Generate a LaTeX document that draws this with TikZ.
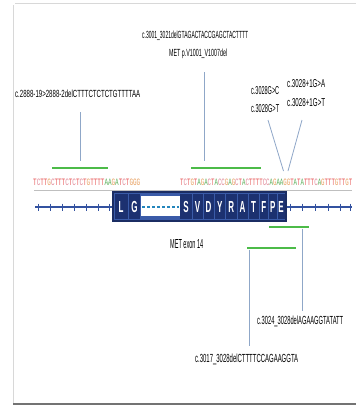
\documentclass[tikz,border=0pt]{standalone}
\usepackage{fontspec}
\setmainfont{Liberation Sans}
\setmonofont{Liberation Mono}
\usepackage{graphicx}
\definecolor{navy}{HTML}{1B2D63}
\definecolor{cellblue}{HTML}{1C3170}
\definecolor{boxblue}{HTML}{3A5BA8}
\definecolor{axisblue}{HTML}{3352A0}
\definecolor{conn}{HTML}{8FA7C8}
\definecolor{bargreen}{HTML}{4CBB48}
\definecolor{framegray}{HTML}{D8D8D8}
\definecolor{seqA}{HTML}{5CB05C}
\definecolor{seqC}{HTML}{E08898}
\definecolor{seqG}{HTML}{E8A060}
\definecolor{seqT}{HTML}{E85A5A}
\newcommand\fitbox[3]{\resizebox{#1pt}{#2pt}{#3}}
\newcommand\colseq[1]{\colseqaux#1\relax}
\def\colseqaux#1{\ifx#1\relax\else\colseqchar{#1}\expandafter\colseqaux\fi}
\def\colseqchar#1{\if#1A\textcolor{seqA}{A}\else\if#1C\textcolor{seqC}{C}\else\if#1G\textcolor{seqG}{G}\else\textcolor{seqT}{T}\fi\fi\fi}
\newcommand\aminoletter[1]{\scalebox{0.5}[1]{\fontsize{16}{16}\selectfont\bfseries #1}}
\begin{document}
\begin{tikzpicture}[x=1pt,y=-1pt,
  txt/.style={inner sep=0pt, anchor=base west, text=black},
  connector/.style={draw=conn, line width=0.8pt},
  greenbar/.style={draw=bargreen, line width=2.4pt},
  aanode/.style={inner sep=0pt, text=white},
  cell/.style={fill=cellblue}]
\useasboundingbox (0,0) rectangle (356,405);
\fill[white] (0,0) rectangle (356,405);
% frame
\draw[framegray, line width=0.8pt] (15,3) -- (356,3);
\draw[framegray, line width=0.8pt] (13,5) -- (13,403);
\draw[black!55, line width=2pt] (13,403.5) -- (356,403.5);

% texts
\node[txt] (t1a) at (142,38.5) {\fitbox{106}{7.5}{c.3001\_3021delGTAGACTACCGAGCTACTTTT}};
\node[txt] (t1b) at (169,56.5) {\fitbox{58}{7.5}{MET p.V1001\_V1007del}};
\node[txt] (t2) at (15,97) {\fitbox{125}{7.5}{c.2888-19>2888-2delCTTTCTCTCTGTTTTAA}};
\node[txt] (t3a) at (251,94) {\fitbox{28}{8}{c.3028G>C}};
\node[txt] (t3b) at (251,112) {\fitbox{28}{8}{c.3028G>T}};
\node[txt] (t4a) at (287,87.5) {\fitbox{38}{8}{c.3028+1G>A}};
\node[txt] (t4b) at (287,106) {\fitbox{38}{8}{c.3028+1G>T}};
\node[txt] (t5) at (257,324) {\fitbox{86}{8.5}{c.3024\_3028delAGAAGGTATATT}};
\node[txt] (t6) at (195,362) {\fitbox{103}{8.5}{c.3017\_3028delCTTTTCCAGAAGGTA}};
\node[txt] (exon) at (170,248) {\fitbox{33}{9}{MET exon 14}};

% sequences
\node[txt] (seqL) at (33,185) {\fitbox{107}{6.5}{\ttfamily\colseq{TCTTGCTTTCTCTCTGTTTTAAGATCTGGG}}};
\node[txt] (seqR) at (180,185) {\fitbox{172}{6.5}{\ttfamily\colseq{TCTGTAGACTACCGAGCTACTTTTCCAGAAGGTATATTTCAGTTTGTTGT}}};
\draw[black!25, line width=0.8pt] (34,190) -- (352,190);

% axis
\draw[axisblue, line width=1.2pt] (35,207) -- (352,207);
\foreach \x in {38,50,62,74,86,98,109,290,302,315,328,340,350}
  \draw[axisblue, line width=0.9pt] (\x,203.5) -- (\x,210.5);

% exon box
\filldraw[fill=boxblue, draw=navy, line width=1.5pt] (113,192) rectangle (286,221);
\foreach \xa/\xb in {114.5/127.5,128.5/140,180/191.5,192.5/202.5,203.5/213.5,214.5/225,226/236.5,237.5/247.5,248.5/258.5,259.5/268,269/276.5,277.5/284.5}
  \fill[cell] (\xa,194) rectangle (\xb,219);
\fill[white] (140.5,196) rectangle (179.5,216);
\draw[axisblue!70!cyan, line width=1.2pt, dash pattern=on 3pt off 2pt] (142,207) -- (179,207);
\foreach \n/\x/\l in {aL/121/L,aG/134.5/G,aS/186/S,aV/197.5/V,aD/208.5/D,aY/219.7/Y,aR/231.2/R,aA/242.5/A,aT/253.5/T,aF/263.7/F,aP/272.7/P,aE/281/E}
  \node[aanode] (\n) at (\x,207) {\aminoletter{\l}};

% green bars
\coordinate (gL1) at (52,168);  \coordinate (gL2) at (108,168);
\coordinate (gM1) at (191,168); \coordinate (gM2) at (261,168);
\coordinate (gR1) at (269,227); \coordinate (gR2) at (309,227);
\coordinate (gS1) at (247,248); \coordinate (gS2) at (296,248);
\draw[greenbar] (gL1) -- (gL2);
\draw[greenbar] (gM1) -- (gM2);
\draw[greenbar] (gR1) -- (gR2);
\draw[greenbar] (gS1) -- (gS2);

% connectors
\coordinate (cL1) at (80,112);  \coordinate (cL2) at (80,161);
\coordinate (cM1) at (204,72);  \coordinate (cM2) at (204,161);
\coordinate (cD1) at (268,120); \coordinate (cD2) at (283.5,171);
\coordinate (cE1) at (302,120); \coordinate (cE2) at (288,171);
\coordinate (cR1) at (302,228.5); \coordinate (cR2) at (302,311);
\coordinate (cS1) at (249,249.5); \coordinate (cS2) at (249,346);
\draw[connector] (cL1) -- (cL2);
\draw[connector] (cM1) -- (cM2);
\draw[connector] (cD1) -- (cD2);
\draw[connector] (cE1) -- (cE2);
\draw[connector] (cR1) -- (cR2);
\draw[connector] (cS1) -- (cS2);
\end{tikzpicture}
\end{document}
